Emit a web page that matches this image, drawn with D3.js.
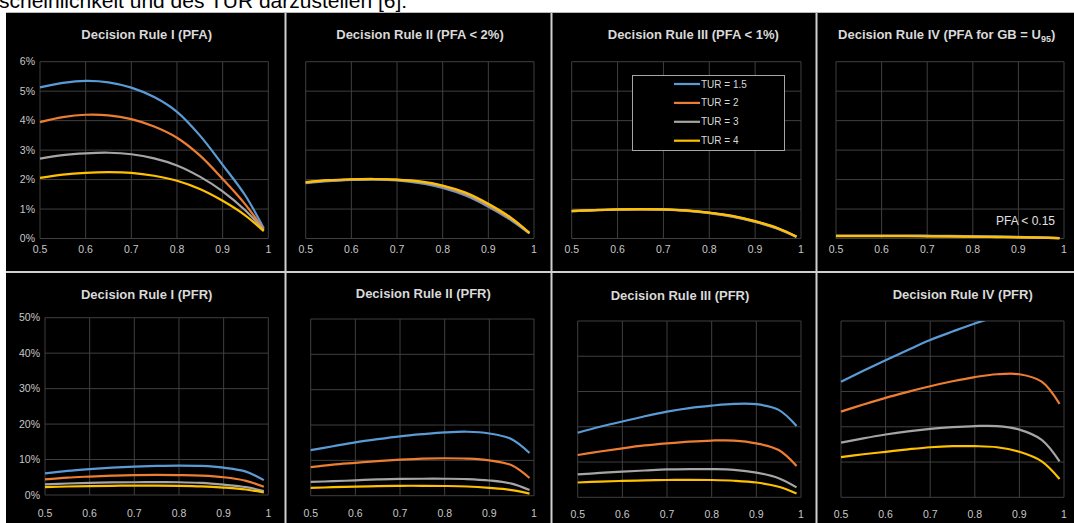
<!DOCTYPE html>
<html><head><meta charset="utf-8">
<script src="https://cdn.jsdelivr.net/npm/d3@7"></script>
<style>body{margin:0;background:#fff;}svg{display:block;}</style>
</head><body>
<svg id="c" width="1074" height="523"></svg>
<script>
// ---------- data ----------
const xValues = [0.5,0.55,0.6,0.65,0.7,0.75,0.8,0.85,0.9,0.95,0.99];
const seriesNames = ["TUR = 1.5","TUR = 2","TUR = 3","TUR = 4"];
const xTickLabels = ["0.5","0.6","0.7","0.8","0.9","1"];
const pfaTicks = [0,1,2,3,4,5,6];
const pfrTicks = [0,10,20,30,40,50];
const titles = ["Decision Rule I (PFA)","Decision Rule II (PFA < 2%)","Decision Rule III (PFA < 1%)","Decision Rule IV (PFA for GB = U95)",
                "Decision Rule I (PFR)","Decision Rule II (PFR)","Decision Rule III (PFR)","Decision Rule IV (PFR)"];
const note = "PFA < 0.15";
const header = "scheinlichkeit und des TUR darzustellen [6]:";

// values in percent, one array per series
const pfa1_tur15 = [5.13,5.28,5.35,5.30,5.12,4.80,4.30,3.50,2.50,1.45,0.35];
const pfa1_tur2  = [3.95,4.12,4.20,4.18,4.05,3.80,3.42,2.82,2.02,1.15,0.30];
const pfa1_tur3  = [2.71,2.83,2.89,2.91,2.86,2.72,2.48,2.10,1.60,0.95,0.28];
const pfa1_tur4  = [2.06,2.17,2.23,2.25,2.23,2.13,1.96,1.68,1.28,0.78,0.25];

const pfa2_tur15 = [1.88,1.95,1.99,2.00,1.97,1.88,1.72,1.46,1.08,0.62,0.17];
const pfa2_tur2  = [1.89,1.96,2.00,2.01,1.99,1.91,1.76,1.50,1.12,0.65,0.18];
const pfa2_tur3  = [1.90,1.97,2.00,2.01,1.99,1.92,1.78,1.53,1.15,0.67,0.18];
const pfa2_tur4  = [1.91,1.98,2.01,2.02,2.00,1.94,1.80,1.56,1.18,0.70,0.19];

const pfa3_tur15 = [0.93,0.96,0.98,0.99,0.98,0.94,0.86,0.74,0.56,0.32,0.05];
const pfa3_tur2  = [0.93,0.96,0.985,0.99,0.985,0.945,0.87,0.75,0.57,0.33,0.06];
const pfa3_tur3  = [0.93,0.965,0.985,0.995,0.99,0.95,0.875,0.76,0.58,0.34,0.06];
const pfa3_tur4  = [0.935,0.965,0.99,1.00,0.99,0.955,0.88,0.77,0.59,0.35,0.07];

const pfa4_tur15 = [0.10,0.10,0.10,0.10,0.095,0.09,0.08,0.07,0.055,0.035,0.015];
const pfa4_tur2  = [0.09,0.09,0.09,0.09,0.085,0.08,0.07,0.06,0.05,0.03,0.01];
const pfa4_tur3  = [0.085,0.085,0.085,0.085,0.08,0.075,0.065,0.055,0.045,0.03,0.01];
const pfa4_tur4  = [0.08,0.08,0.08,0.08,0.075,0.07,0.06,0.05,0.04,0.025,0.01];

const pfr1_tur15 = [6.1,6.8,7.3,7.7,8.0,8.2,8.3,8.2,7.7,6.6,4.2];
const pfr1_tur2  = [4.4,4.9,5.2,5.45,5.6,5.65,5.6,5.45,5.0,4.0,2.3];
const pfr1_tur3  = [3.0,3.25,3.4,3.55,3.6,3.62,3.6,3.4,2.9,2.2,1.1];
const pfr1_tur4  = [2.2,2.4,2.5,2.6,2.65,2.65,2.6,2.45,2.1,1.55,0.7];

const pfr2_tur15 = [12.9,14.0,15.1,16.0,16.8,17.4,17.9,18.1,17.6,16.0,12.1];
const pfr2_tur2  = [8.1,8.8,9.3,9.8,10.2,10.5,10.6,10.5,10.0,8.6,5.0];
const pfr2_tur3  = [3.9,4.1,4.35,4.6,4.75,4.8,4.8,4.7,4.3,3.4,1.6];
const pfr2_tur4  = [2.2,2.4,2.55,2.7,2.8,2.8,2.75,2.6,2.2,1.6,0.6];

const pfr3_tur15 = [18.3,20.0,21.5,23.0,24.3,25.3,26.0,26.5,26.4,24.8,20.2];
const pfr3_tur2  = [12.0,13.0,13.9,14.7,15.3,15.8,16.1,16.1,15.3,13.4,8.9];
const pfr3_tur3  = [6.5,6.9,7.3,7.6,7.9,8.0,8.0,7.8,7.0,5.4,2.8];
const pfr3_tur4  = [4.2,4.45,4.65,4.8,4.9,4.95,4.9,4.7,4.2,3.0,1.1];

const pfr4_tur15 = [32.8,35.9,38.9,41.8,44.6,47.0,49.3,51.3,null,null,null];
const pfr4_tur2  = [24.3,26.3,28.2,29.9,31.5,32.9,34.1,34.9,34.9,32.8,26.5];
const pfr4_tur3  = [15.5,16.7,17.8,18.7,19.4,19.9,20.2,20.2,19.2,16.3,10.2];
const pfr4_tur4  = [11.4,12.2,12.9,13.6,14.2,14.5,14.5,14.2,12.9,10.2,5.2];

const panelData = [
  [pfa1_tur15,pfa1_tur2,pfa1_tur3,pfa1_tur4],
  [pfa2_tur15,pfa2_tur2,pfa2_tur3,pfa2_tur4],
  [pfa3_tur15,pfa3_tur2,pfa3_tur3,pfa3_tur4],
  [pfa4_tur15,pfa4_tur2,pfa4_tur3,pfa4_tur4],
  [pfr1_tur15,pfr1_tur2,pfr1_tur3,pfr1_tur4],
  [pfr2_tur15,pfr2_tur2,pfr2_tur3,pfr2_tur4],
  [pfr3_tur15,pfr3_tur2,pfr3_tur3,pfr3_tur4],
  [pfr4_tur15,pfr4_tur2,pfr4_tur3,pfr4_tur4]
];

// ---------- layout & style ----------
const colors = ["#5b9bd5","#ed7d31","#a5a5a5","#ffc000"];
const layout = [
  {l:40,   r:268.3, t:61.7, b:238.5, tx:146.7, ty:39,  yl:true,  ticks:pfaTicks, lb:253},
  {l:305.7,r:534,   t:61.7, b:238.5, tx:420,   ty:39,  yl:false, ticks:pfaTicks, lb:253},
  {l:571.7,r:801,   t:61.7, b:238.5, tx:693.3, ty:39,  yl:false, ticks:pfaTicks, lb:253},
  {l:836,  r:1064,  t:61.7, b:238.5, tx:946.7, ty:39,  yl:false, ticks:pfaTicks, lb:253},
  {l:45,   r:268.3, t:317.7,b:495,   tx:146.7, ty:299, yl:true,  ticks:pfrTicks, lb:517},
  {l:310.7,r:534,   t:319,  b:495.7, tx:423.3, ty:298, yl:false, ticks:pfrTicks, lb:517},
  {l:577.7,r:801,   t:321,  b:497.3, tx:680,   ty:300, yl:false, ticks:pfrTicks, lb:518},
  {l:841,  r:1064,  t:321,  b:497.3, tx:962.7, ty:299, yl:false, ticks:pfrTicks, lb:518}
];
const FONT = "'Liberation Sans', Arial, sans-serif";

const svg = d3.select("#c");
svg.append("rect").attr("width",1074).attr("height",523).attr("fill","#fff");
svg.append("text").attr("x",-1).attr("y",8).attr("font-family",FONT).attr("font-size",21)
  .attr("fill","#000").text(header);
svg.append("rect").attr("x",6).attr("y",12).attr("width",1068).attr("height",511).attr("fill","#000");

// separators
const sepCol = "#d0d0d0";
[285.5,551.5,816.5].forEach(x=>svg.append("line").attr("x1",x).attr("x2",x).attr("y1",12).attr("y2",523)
  .attr("stroke",sepCol).attr("stroke-width",2));
svg.append("line").attr("x1",6).attr("x2",1074).attr("y1",272).attr("y2",272).attr("stroke",sepCol).attr("stroke-width",2);
svg.append("line").attr("x1",6).attr("x2",1074).attr("y1",12.5).attr("y2",12.5).attr("stroke","#bbb").attr("stroke-width",1);

const xTickVals = xTickLabels.map(Number);

layout.forEach((L,i)=>{
  const g = svg.append("g");
  const x = d3.scaleLinear().domain([0.5,1]).range([L.l,L.r]);
  const ymax = L.ticks[L.ticks.length-1];
  const y = d3.scaleLinear().domain([0,ymax]).range([L.b,L.t]);

  // grid
  g.selectAll(".gx").data(xTickVals).join("line")
    .attr("x1",d=>x(d)).attr("x2",d=>x(d)).attr("y1",L.t).attr("y2",L.b)
    .attr("stroke","#3f3f3f").attr("stroke-width",1);
  g.selectAll(".gy").data(L.ticks).join("line")
    .attr("x1",L.l).attr("x2",L.r).attr("y1",d=>y(d)).attr("y2",d=>y(d))
    .attr("stroke","#3f3f3f").attr("stroke-width",1);

  // x labels
  g.selectAll(".xl").data(xTickLabels).join("text")
    .attr("x",d=>x(+d)).attr("y",L.lb).attr("text-anchor","middle")
    .attr("font-family",FONT).attr("font-size",10.5).attr("fill","#c8c8c8").text(d=>d);
  if(L.yl){
    g.selectAll(".yl").data(L.ticks).join("text")
      .attr("x",L.l-5).attr("y",d=>y(d)+3.5).attr("text-anchor","end")
      .attr("font-family",FONT).attr("font-size",10.5).attr("fill","#c8c8c8").text(d=>d+"%");
  }

  // title
  const t = g.append("text").attr("x",L.tx).attr("y",L.ty).attr("text-anchor","middle")
    .attr("font-family",FONT).attr("font-size",13).attr("font-weight","bold").attr("fill","#d9d9d9");
  if(titles[i].endsWith("U95)")){
    t.append("tspan").text(titles[i].replace("U95)","U"));
    t.append("tspan").attr("font-size",9).attr("dy",3).text("95");
    t.append("tspan").attr("dy",-3).text(")");
  } else t.text(titles[i]);

  // clip
  const cid = "clip"+i;
  svg.append("clipPath").attr("id",cid).append("rect")
    .attr("x",L.l-2).attr("y",L.t).attr("width",L.r-L.l+4).attr("height",L.b-L.t+2);

  const line = d3.line().defined(d=>d[1]!=null).x(d=>x(d[0])).y(d=>y(d[1])).curve(d3.curveCatmullRom.alpha(0.5));
  const cg = g.append("g").attr("clip-path",`url(#${cid})`);
  panelData[i].forEach((vals,k)=>{
    cg.append("path").datum(xValues.map((xv,j)=>[xv,vals[j]]))
      .attr("d",line).attr("fill","none").attr("stroke",colors[k]).attr("stroke-width",2.2);
  });

  if(i===2){
    const lg = g.append("g");
    lg.append("rect").attr("x",632.5).attr("y",75.5).attr("width",152).attr("height",75)
      .attr("fill","#000").attr("stroke","#a6a6a6").attr("stroke-width",1);
    seriesNames.forEach((n,k)=>{
      const yy = 84 + k*18.9;
      lg.append("line").attr("x1",674).attr("x2",700).attr("y1",yy).attr("y2",yy)
        .attr("stroke",colors[k]).attr("stroke-width",2.2);
      lg.append("text").attr("x",701).attr("y",yy+3.5).attr("font-family",FONT).attr("font-size",10)
        .attr("fill","#d9d9d9").text(n);
    });
  }
  if(i===3){
    g.append("text").attr("x",1055).attr("y",225).attr("text-anchor","end")
      .attr("font-family",FONT).attr("font-size",12).attr("fill","#e0e0e0").text(note);
  }
});
</script>
</body></html>
